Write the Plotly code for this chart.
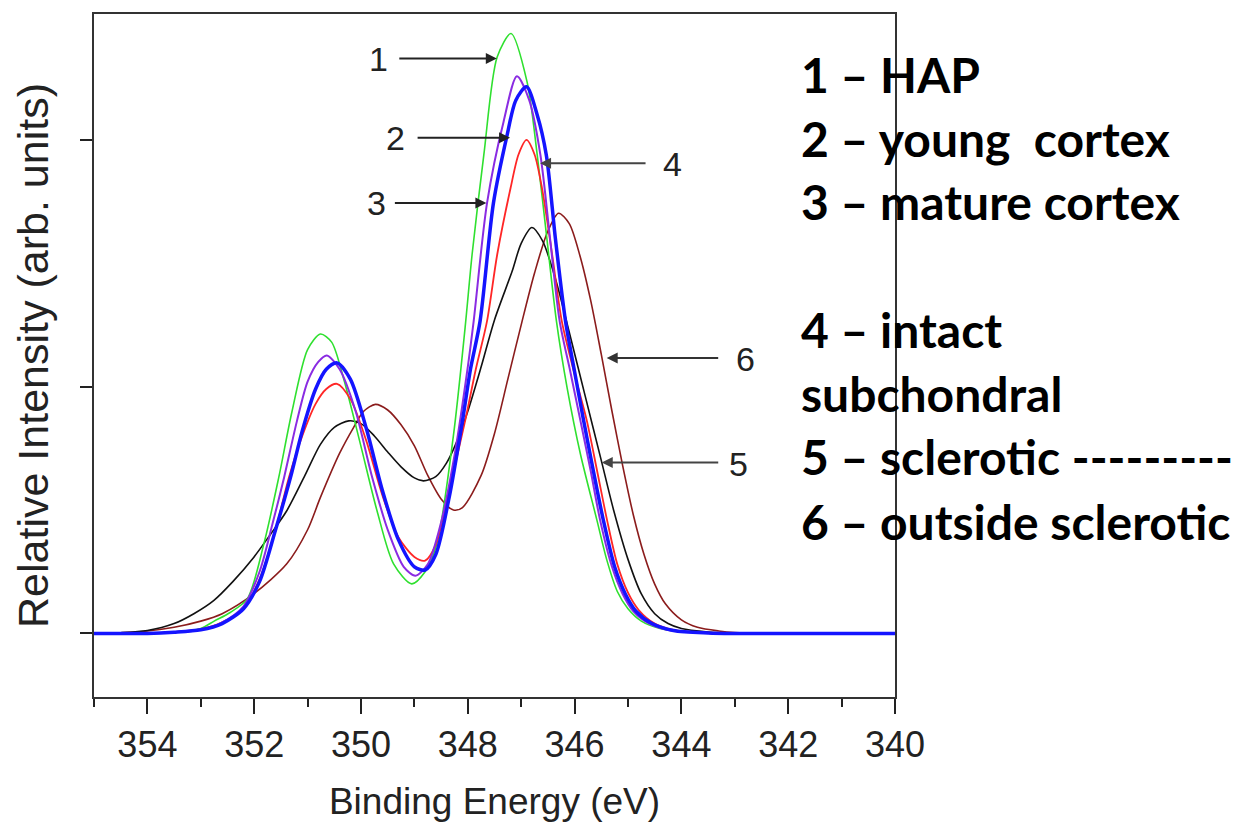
import plotly.graph_objects as go

# ---- data (binding energy in eV, relative intensity) ----
hap_x = [355, 354, 353.5, 353.0, 352.75, 352.45, 352.13, 351.82, 351.54, 351.29, 351.0, 350.76, 350.55,
         350.33, 350.01, 349.70, 349.39, 349.05, 348.8, 348.58, 348.27, 348.05, 347.92, 347.70, 347.45,
         347.19, 346.89, 346.70, 346.52, 346.34, 346.14, 345.89, 345.58, 345.4, 345.2, 345.0, 344.75,
         344.4, 344.0, 343.5, 343.0, 340]
hap_y = [0, 0, 0.004, 0.02, 0.05, 0.085, 0.14, 0.362, 0.632, 0.901, 1.15, 1.213, 1.18,
         1.036, 0.766, 0.497, 0.282, 0.201, 0.25, 0.362, 0.80, 1.24, 1.534, 1.938, 2.335,
         2.43, 2.234, 1.938, 1.601, 1.265, 0.995, 0.726, 0.457, 0.30, 0.17, 0.10, 0.05,
         0.02, 0.008, 0.002, 0, 0]

young_x = [355, 354, 353.5, 353.0, 352.6, 352.2, 351.9, 351.65, 351.44, 351.2, 351.0, 350.8, 350.64,
           350.4, 350.1, 349.8, 349.5, 349.2, 348.98, 348.75, 348.5, 348.25, 348.0, 347.89, 347.64,
           347.33, 347.08, 346.85, 346.64, 346.46, 346.28, 346.08, 345.89, 345.7, 345.52, 345.3,
           345.1, 344.9, 344.6, 344.2, 343.5, 343.0, 340]
young_y = [0, 0, 0.005, 0.015, 0.045, 0.11, 0.25, 0.45, 0.632, 0.86, 1.02, 1.10, 1.126,
           1.07, 0.90, 0.64, 0.42, 0.27, 0.234, 0.28, 0.45, 0.72, 1.08, 1.265, 1.743,
           2.073, 2.257, 2.16, 1.938, 1.60, 1.265, 1.06, 0.861, 0.66, 0.457, 0.27,
           0.16, 0.09, 0.04, 0.012, 0.002, 0, 0]

mature_x = [355, 354, 353.5, 353.0, 352.6, 352.2, 351.9, 351.6, 351.32, 351.1, 350.85, 350.65, 350.45,
            350.2, 349.9, 349.6, 349.3, 349.0, 348.80, 348.6, 348.35, 348.1, 347.95, 347.77, 347.52,
            347.27, 347.1, 346.90, 346.7, 346.53, 346.36, 346.17, 346.0, 345.83, 345.65, 345.46,
            345.25, 345.05, 344.85, 344.55, 344.15, 343.5, 343.0, 340]
mature_y = [0, 0, 0.005, 0.015, 0.04, 0.10, 0.21, 0.42, 0.632, 0.82, 0.99, 1.07, 1.096,
            1.03, 0.83, 0.58, 0.38, 0.27, 0.257, 0.32, 0.55, 0.861, 1.07, 1.265, 1.743,
            2.012, 2.16, 2.214, 2.10, 1.938, 1.60, 1.265, 1.06, 0.861, 0.66, 0.457,
            0.27, 0.16, 0.09, 0.04, 0.012, 0.002, 0, 0]

intact_x = [355, 354, 353.5, 353.0, 352.6, 352.2, 351.9, 351.6, 351.35, 351.1, 350.85, 350.65, 350.45,
            350.2, 349.9, 349.6, 349.3, 349.0, 348.80, 348.6, 348.35, 348.05, 347.85, 347.64, 347.45,
            347.20, 347.05, 346.90, 346.75, 346.61, 346.42, 346.24, 346.0, 345.77, 345.58, 345.39,
            345.2, 345.0, 344.8, 344.5, 344.1, 343.5, 343.0, 340]
intact_y = [0, 0, 0.006, 0.018, 0.045, 0.10, 0.22, 0.42, 0.632, 0.80, 0.93, 0.99, 1.011,
            0.95, 0.78, 0.56, 0.39, 0.31, 0.295, 0.36, 0.58, 0.861, 1.07, 1.265, 1.534,
            1.803, 1.94, 1.999, 1.94, 1.803, 1.534, 1.265, 1.05, 0.861, 0.66, 0.457,
            0.28, 0.165, 0.095, 0.04, 0.012, 0.002, 0, 0]

scler_x = [355, 354.5, 354, 353.5, 353.13, 352.76, 352.4, 352.01, 351.7, 351.39, 351.05, 350.76, 350.5,
           350.23, 350.0, 349.75, 349.5, 349.25, 349.0, 348.83, 348.6, 348.4, 348.2, 348.0, 347.75,
           347.5, 347.17, 347.0, 346.80, 346.6, 346.35, 346.1, 345.8, 345.49, 345.27, 345.0, 344.75,
           344.5, 344.25, 344.0, 343.5, 343.0, 340]
scler_y = [0, 0.003, 0.012, 0.04, 0.08, 0.133, 0.21, 0.308, 0.40, 0.497, 0.64, 0.766, 0.835,
           0.861, 0.85, 0.80, 0.735, 0.675, 0.63, 0.618, 0.635, 0.69, 0.78, 0.90, 1.08,
           1.27, 1.467, 1.58, 1.644, 1.59, 1.43, 1.22, 0.96, 0.692, 0.50, 0.30, 0.16,
           0.08, 0.04, 0.02, 0.006, 0, 0]

outside_x = [355, 354.5, 354, 353.5, 353.0, 352.6, 352.01, 351.39, 351.0, 350.76, 350.4, 350.14, 349.95,
             349.73, 349.5, 349.25, 349.0, 348.75, 348.5, 348.27, 348.1, 347.75, 347.5, 347.25, 347.0,
             346.75, 346.5, 346.30, 346.1, 345.9, 345.7, 345.5, 345.3, 345.1, 344.9, 344.7, 344.5,
             344.3, 344.0, 343.7, 343.3, 343.0, 340]
outside_y = [0, 0.003, 0.01, 0.025, 0.05, 0.08, 0.16, 0.282, 0.42, 0.551, 0.73, 0.834, 0.90,
             0.928, 0.905, 0.845, 0.76, 0.64, 0.545, 0.50, 0.51, 0.64, 0.81, 1.03, 1.25,
             1.46, 1.63, 1.702, 1.66, 1.53, 1.35, 1.13, 0.90, 0.68, 0.48, 0.32, 0.20,
             0.12, 0.055, 0.025, 0.01, 0.004, 0]

x_ticks = [354, 352, 350, 348, 346, 344, 342, 340]

legend_lines = ["1 – HAP", "2 – young\u00a0 cortex", "3 – mature cortex",
                "4 – intact", "subchondral", "5 – sclerotic ---------", "6 – outside sclerotic"]

series = [
    ("outside sclerotic", outside_x, outside_y, "#8b1c1c", 1.6),
    ("sclerotic", scler_x, scler_y, "#111111", 1.6),
    ("HAP", hap_x, hap_y, "#2fe02f", 1.6),
    ("intact subchondral", intact_x, intact_y, "#ff2626", 1.8),
    ("young cortex", young_x, young_y, "#8a2be2", 2.0),
    ("mature cortex", mature_x, mature_y, "#1414ff", 3.5),
]

fig = go.Figure()
for name, xs, ys, col, w in series:
    fig.add_trace(go.Scatter(x=xs, y=ys, mode="lines", name=name,
                             line=dict(color=col, width=w, shape="spline", smoothing=0.8),
                             showlegend=False))

# plot geometry (px)
L, R, T, B = 94, 895, 12, 697
W, H = 1251, 836

def px_x(px):
    return (px - L) / (R - L)

def px_y(py):
    return (B - py) / (B - T)

ann = []
# arrows: (tip x, tip y in data, tail offset px, colour)
arrows = [(347.457, 2.329, -99, "#222222"), (347.208, 2.008, -94, "#222222"),
          (347.652, 1.743, -93, "#222222"), (346.647, 1.904, 107, "#444444"),
          (345.399, 1.116, 113, "#333333"), (345.492, 0.692, 118, "#444444")]
for tx, ty, off, col in arrows:
    ann.append(dict(x=tx, y=ty, xref="x", yref="y", ax=off, ay=0, text="",
                    showarrow=True, arrowhead=2, arrowsize=1.1, arrowwidth=2,
                    arrowcolor=col))
labels = [("1", 378, 57), ("2", 395, 136), ("3", 376, 202),
          ("4", 672, 162), ("6", 745, 358), ("5", 738, 463)]
for t, lx, ly in labels:
    ann.append(dict(x=px_x(lx), y=px_y(ly), xref="paper", yref="paper", text=t,
                    showarrow=False, xanchor="center", yanchor="middle",
                    font=dict(family="Liberation Sans, Arial", size=34, color="#222222")))

centers = [73, 137, 200, 328, 393, 456, 521]
for t, cy in zip(legend_lines, centers):
    ann.append(dict(x=px_x(799), y=px_y(cy), xref="paper", yref="paper", text="<b>" + t + "</b>",
                    showarrow=False, xanchor="left", yanchor="middle",
                    font=dict(family="Lato, Open Sans, sans-serif", size=48, color="#000000")))

fig.update_layout(
    width=W, height=H, autosize=False,
    margin=dict(l=L, r=W - R, t=T, b=H - B, pad=0),
    paper_bgcolor="white", plot_bgcolor="white",
    annotations=ann,
    xaxis=dict(range=[355, 340], tickvals=x_ticks, ticktext=[str(v) for v in x_ticks],
               ticks="outside", ticklen=15, tickwidth=2, tickcolor="#222",
               minor=dict(dtick=1, tick0=355, ticks="outside", ticklen=8, tickwidth=2, tickcolor="#222"),
               showline=True, linecolor="#333", linewidth=2, mirror=True, showgrid=False,
               zeroline=False,
               tickfont=dict(family="Liberation Sans, Arial", size=36, color="#222"),
               title=dict(text="Binding Energy (eV)", standoff=24,
                          font=dict(family="Liberation Sans, Arial", size=37, color="#222"))),
    yaxis=dict(range=[-0.2574, 2.509], tickvals=[0, 1, 2], showticklabels=False,
               ticks="outside", ticklen=12, tickwidth=2, tickcolor="#222",
               showline=True, linecolor="#333", linewidth=2, mirror=True, showgrid=False,
               zeroline=False,
               title=dict(text="Relative Intensity (arb. units)", standoff=18,
                          font=dict(family="Liberation Sans, Arial", size=43, color="#222"))),
)

fig.write_html("out.html")
